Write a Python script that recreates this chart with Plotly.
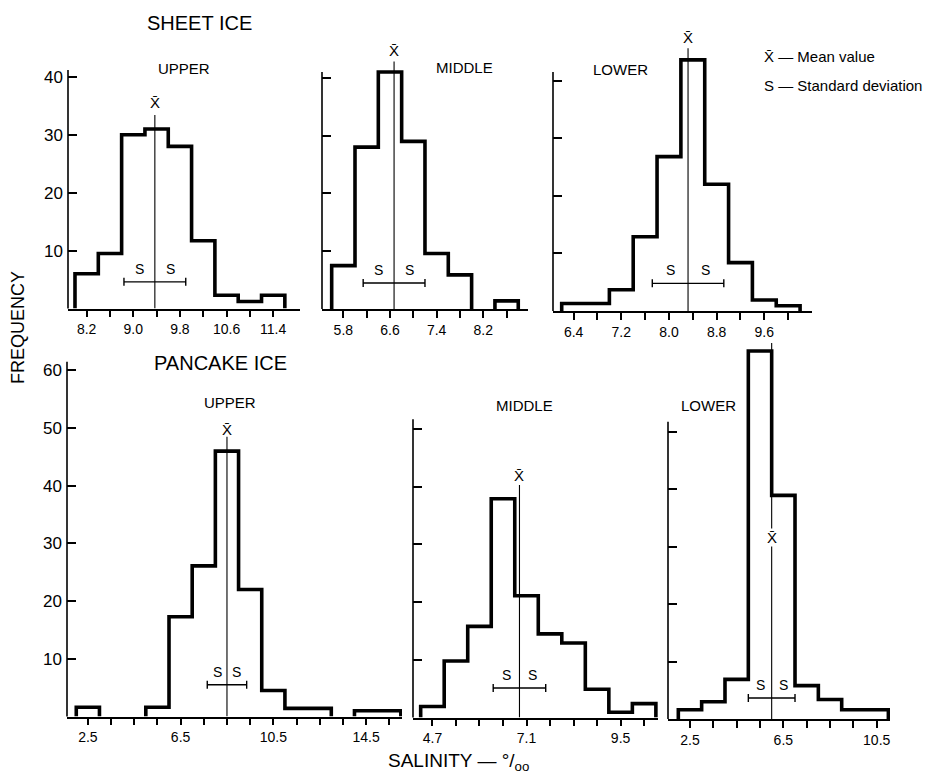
import plotly.graph_objects as go

FONT = "Liberation Sans, Arial, Helvetica, sans-serif"
W, H = 941, 773

# ---------------- data ----------------
group_titles = ["SHEET ICE", "PANCAKE ICE"]
panel_names = ["UPPER", "MIDDLE", "LOWER", "UPPER", "MIDDLE", "LOWER"]

sheet_upper_centers = [8.2, 8.6, 9.0, 9.4, 9.8, 10.2, 10.6, 11.0, 11.4]
sheet_upper_freq = [6, 9.5, 30, 31, 28, 11.7, 2.3, 1.2, 2.3]

sheet_middle_centers = [5.8, 6.2, 6.6, 7.0, 7.4, 7.8, 8.2, 8.6]
sheet_middle_freq = [7.5, 28, 41, 29, 9.6, 5.9, 0, 1.4]

sheet_lower_centers = [6.4, 6.8, 7.2, 7.6, 8.0, 8.4, 8.8, 9.2, 9.6, 10.0]
sheet_lower_freq = [1.3, 1.3, 3.7, 12.9, 26.8, 43.6, 22, 8.4, 1.9, 0.9]

pancake_upper_centers = [2.5, 3.5, 4.5, 5.5, 6.5, 7.5, 8.5, 9.5, 10.5, 11.5, 12.5, 13.5, 14.5, 15.5]
pancake_upper_freq = [1.6, 0, 0, 1.6, 17.3, 26.1, 46, 22, 4.5, 1.4, 1.4, 0, 1.0, 1.0]

pancake_middle_centers = [4.7, 5.3, 5.9, 6.5, 7.1, 7.7, 8.3, 8.9, 9.5, 10.1]
pancake_middle_freq = [1.9, 9.8, 15.8, 37.9, 21.1, 14.5, 12.9, 4.9, 0.9, 2.4]

pancake_lower_centers = [2.5, 3.5, 4.5, 5.5, 6.5, 7.5, 8.5, 9.5, 10.5]
pancake_lower_freq = [1.6, 3.0, 6.9, 64, 38.9, 5.8, 3.4, 1.6, 1.6]

mean_values = [9.37, 6.67, 8.32, 8.5, 6.92, 6.0]
std_devs = [0.53, 0.53, 0.6, 0.85, 0.67, 1.0]

# all tick marks (minor) and labelled ticks (major)
sheet_upper_ticks = [8.2, 8.6, 9.0, 9.4, 9.8, 10.2, 10.6, 11.0, 11.4]
sheet_upper_labels = [8.2, 9.0, 9.8, 10.6, 11.4]
sheet_middle_ticks = [5.8, 6.2, 6.6, 7.0, 7.4, 7.8, 8.2, 8.6]
sheet_middle_labels = [5.8, 6.6, 7.4, 8.2]
sheet_lower_ticks = [6.4, 6.8, 7.2, 7.6, 8.0, 8.4, 8.8, 9.2, 9.6, 10.0]
sheet_lower_labels = [6.4, 7.2, 8.0, 8.8, 9.6]
pancake_upper_ticks = pancake_upper_centers
pancake_upper_labels = [2.5, 6.5, 10.5, 14.5]
pancake_middle_ticks = pancake_middle_centers
pancake_middle_labels = [4.7, 7.1, 9.5]
pancake_lower_ticks = pancake_lower_centers
pancake_lower_labels = [2.5, 6.5, 10.5]

sheet_freq_ticks = [10, 20, 30, 40]
pancake_upper_freq_ticks = [10, 20, 30, 40, 50, 60]
pancake_freq_ticks = [10, 20, 30, 40, 50]

centers_list = [sheet_upper_centers, sheet_middle_centers, sheet_lower_centers,
                pancake_upper_centers, pancake_middle_centers, pancake_lower_centers]
freq_list = [sheet_upper_freq, sheet_middle_freq, sheet_lower_freq,
             pancake_upper_freq, pancake_middle_freq, pancake_lower_freq]
ticks_list = [sheet_upper_ticks, sheet_middle_ticks, sheet_lower_ticks,
              pancake_upper_ticks, pancake_middle_ticks, pancake_lower_ticks]
labels_list = [sheet_upper_labels, sheet_middle_labels, sheet_lower_labels,
               pancake_upper_labels, pancake_middle_labels, pancake_lower_labels]
yticks_list = [sheet_freq_ticks, sheet_freq_ticks, sheet_freq_ticks,
               pancake_upper_freq_ticks, pancake_freq_ticks, pancake_freq_ticks]

# ---------------- layout geometry (pixels) ----------------
panel_xpx = [(68, 300), (322, 528), (553, 812), (67, 402), (413, 658), (668, 890)]
panel_base = [308.5, 309.0, 311.0, 716.5, 717.5, 719.0]
panel_ppu = [5.79, 5.78, 5.76, 5.77, 5.77, 5.75]
panel_xrange = [(7.88, 11.86), (5.434, 8.967), (6.054, 10.4),
                (1.6, 16.05), (4.204, 10.454), (1.558, 11.07)]
panel_ymax = [48, 48, 48, 67, 67, 67]
axis_top = [41.2, 41.0, 41.5, 61.5, 51.7, 51.7]
mean_line_top = [33.4, 42.8, 45.6, 48.5, 40.3, 65.4]
mean_label_y = [35.5, 44.8, 47.4, 49.7, 42.0, 31.5]
s_bar_y = [4.6, 4.5, 4.8, 5.5, 5.1, 3.65]
show_ylabels = [True, False, False, True, False, False]


def px_x(p):
    return p / W


def px_y(p):
    return 1 - p / H


fig = go.Figure()
layout_axes = {}
shapes = []
annotations = []


def paper_text(text, px, py, size, xanchor="center", **kw):
    d = dict(x=px_x(px), y=px_y(py), xref="paper", yref="paper", text=text,
             showarrow=False, xanchor=xanchor, yanchor="middle",
             font=dict(family=FONT, size=size, color="black"))
    d.update(kw)
    return d


for i in range(6):
    n = i + 1
    xa = "x" if n == 1 else f"x{n}"
    ya = "y" if n == 1 else f"y{n}"
    centers = centers_list[i]
    freqs = freq_list[i]
    w = centers[1] - centers[0]

    # step outline, broken at empty bins
    xs, ys = [], []
    run = False
    for c, f in zip(centers, freqs):
        left = c - w / 2
        if f > 0:
            if not run:
                xs += [left, left]
                ys += [0, f]
                run = True
            else:
                xs.append(left)
                ys.append(f)
        else:
            if run:
                xs += [left, None]
                ys += [0, None]
                run = False
    if run:
        xs.append(centers[-1] + w / 2)
        ys.append(0)
    fig.add_trace(go.Scatter(x=xs, y=ys, xaxis=xa, yaxis=ya, mode="lines",
                             line=dict(color="black", width=3.6, shape="hv"),
                             hoverinfo="skip", showlegend=False))

    m, s = mean_values[i], std_devs[i]
    # mean line
    fig.add_trace(go.Scatter(x=[m, m], y=[0, mean_line_top[i]], xaxis=xa, yaxis=ya,
                             mode="lines", line=dict(color="black", width=1.1),
                             hoverinfo="skip", showlegend=False))
    # standard deviation bar
    fig.add_trace(go.Scatter(x=[m], y=[s_bar_y[i]], xaxis=xa, yaxis=ya, mode="markers",
                             marker=dict(size=2, color="rgba(0,0,0,0)"),
                             error_x=dict(type="data", array=[s], width=4,
                                          thickness=1.4, color="black"),
                             hoverinfo="skip", showlegend=False))

    xl, xr = panel_xpx[i]
    base = panel_base[i]
    ppu = panel_ppu[i]
    ytop_px = base - panel_ymax[i] * ppu
    layout_axes["xaxis" if n == 1 else f"xaxis{n}"] = dict(
        domain=[px_x(xl), px_x(xr)], range=list(panel_xrange[i]), anchor=ya,
        showline=True, linecolor="black", linewidth=1.5, mirror=False,
        ticks="outside", ticklen=7, tickwidth=1.5, tickcolor="black",
        tickmode="array", tickvals=labels_list[i],
        ticktext=[f"{v:.1f}" for v in labels_list[i]],
        minor=dict(tickmode="array", tickvals=ticks_list[i], ticks="outside",
                   ticklen=7, tickwidth=1.5, tickcolor="black", showgrid=False),
        tickfont=dict(family=FONT, size=14, color="black"),
        ticklabelstandoff=0, showgrid=False, zeroline=False, fixedrange=True)
    layout_axes["yaxis" if n == 1 else f"yaxis{n}"] = dict(
        domain=[px_y(base), px_y(ytop_px)], range=[0, panel_ymax[i]], anchor=xa,
        showline=False, ticks="inside", ticklen=9, tickwidth=1.5, tickcolor="black",
        tickmode="array", tickvals=yticks_list[i], showticklabels=show_ylabels[i],
        tickfont=dict(family=FONT, size=17, color="black"),
        ticklabelstandoff=4, showgrid=False, zeroline=False, fixedrange=True)

    # y axis line (shorter than plotting range)
    shapes.append(dict(type="line", xref="paper", yref="paper",
                       x0=px_x(xl), x1=px_x(xl), y0=px_y(base),
                       y1=px_y(base - axis_top[i] * ppu),
                       line=dict(color="black", width=1.6)))

    # mean label
    annotations.append(dict(x=m, y=mean_label_y[i], xref=xa, yref=ya, text="X\u0304",
                            xanchor="center", yanchor="middle",
                            showarrow=False, font=dict(family=FONT, size=15, color="black"),
                            bgcolor="white" if i == 5 else None, borderpad=0))
    # S labels
    for sign in (-1, 1):
        annotations.append(dict(x=m + sign * s / 2, y=s_bar_y[i], yshift=13,
                                xref=xa, yref=ya, text="S", showarrow=False,
                                xanchor="center", yanchor="middle",
                                font=dict(family=FONT, size=14, color="black")))

# panel titles
panel_title_px = [(184, 68), (464, 67), (620, 70), (230, 403), (524, 405), (708, 405)]
for name, (px, py) in zip(panel_names, panel_title_px):
    annotations.append(paper_text(name, px, py, 15))

group_title_px = [(199, 23), (220, 363)]
for name, (px, py) in zip(group_titles, group_title_px):
    annotations.append(paper_text(name, px, py, 20))

# legend text
annotations.append(paper_text("X\u0304 \u2014 Mean value", 762, 57, 15, xanchor="left"))
annotations.append(paper_text("S \u2014 Standard deviation", 762, 85, 15, xanchor="left"))

# axis titles
annotations.append(paper_text("FREQUENCY", 18, 328, 18, textangle=-90))
annotations.append(paper_text("SALINITY \u2014 \u00b0/<sub>oo</sub>", 458, 762, 19))

fig.update_layout(width=W, height=H, margin=dict(l=0, r=0, t=0, b=0),
                  paper_bgcolor="white", plot_bgcolor="rgba(0,0,0,0)",
                  showlegend=False, shapes=shapes, annotations=annotations,
                  **layout_axes)

fig.write_html("out.html", config={"displayModeBar": False},
               post_script="document.body.style.margin='0';")
